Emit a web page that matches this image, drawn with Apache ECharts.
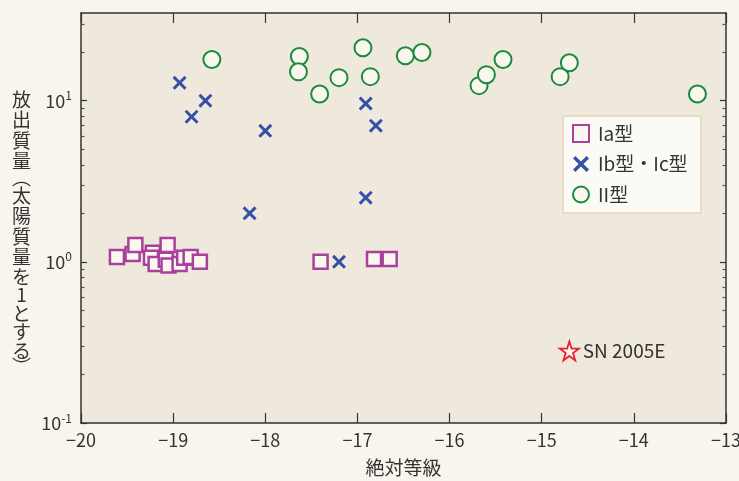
<!DOCTYPE html>
<html><head><meta charset="utf-8">
<script src="https://cdn.jsdelivr.net/npm/echarts@6/dist/echarts.min.js"></script>
<style>html,body{margin:0;padding:0;background:#f8f6ec;}#c{width:739px;height:481px;}</style>
</head><body><div id="c"></div>
<script>
// Data: [absolute magnitude, ejected mass (solar masses)]
const typeIa = [
  [-19.61,1.07],[-19.44,1.12],[-19.41,1.27],[-19.22,1.14],[-19.24,1.06],[-19.19,0.97],
  [-19.06,1.27],[-19.08,1.03],[-19.05,0.95],[-18.93,0.97],[-18.88,1.06],[-18.81,1.07],
  [-18.71,1.0],[-17.40,1.0],[-16.82,1.04],[-16.65,1.04]
];
const typeIbIc = [
  [-18.93,12.9],[-18.65,10.0],[-18.80,7.95],[-18.00,6.5],[-18.17,2.0],
  [-16.91,9.6],[-16.80,7.0],[-16.91,2.5],[-17.20,1.0]
];
const typeII = [
  [-18.58,18.0],[-17.63,18.8],[-17.64,15.1],[-17.41,11.0],[-17.20,13.9],[-16.94,21.3],
  [-16.86,14.1],[-16.48,19.0],[-16.30,19.9],[-15.68,12.4],[-15.60,14.5],[-15.42,18.0],
  [-14.80,14.1],[-14.70,17.2],[-13.31,11.0]
];
const sn2005e = [[-14.70,0.28]];
const seriesNames = ['Ia型','Ib型・Ic型','II型'];
const xTitle = '絶対等級';
const yTitle = '放出質量（太陽質量を1とする）';
const yMajor = [0.1,1,10];
const yMinor = [0.2,0.3,0.4,0.5,0.6,0.7,0.8,0.9,2,3,4,5,6,7,8,9,20,30];

const FONT = '"Noto Sans CJK JP","Noto Sans",sans-serif';
const TXT = '#333333';
const CREAM = '#faf8ee';
const xPath = 'path://M1.5,0 L5,3.5 L8.5,0 L10,1.5 L6.5,5 L10,8.5 L8.5,10 L5,6.5 L1.5,10 L0,8.5 L3.5,5 L0,1.5 Z';
const starPath = 'path://M50,3 L61,37 L97,37 L68,58 L79,93 L50,72 L21,93 L32,58 L3,37 L39,37 Z';

// vertical title: one glyph per line, parentheses in vertical form
const kanaSet = 'をとする1';
const vTitle = Array.from(yTitle).map(c => {
  if (c === '（') return '{p|︵}';
  if (c === '）') return '{p|︶}';
  if (kanaSet.indexOf(c) >= 0) return '{n|' + c + '}';
  return '{k|' + c + '}';
}).join('\n');

const chart = echarts.init(document.getElementById('c'), null, {renderer:'canvas'});
const axLine = {show:true, lineStyle:{color:'#333', width:1.5}};
const yBase = {type:'log', logBase:10, min:0.1, max:35, splitLine:{show:false}, axisLine:axLine};
const vStyle = {fontSize:19, fill:TXT, color:TXT, fontFamily:FONT, align:'center'};
chart.setOption({
  backgroundColor:'#f8f6ec',
  textStyle:{fontFamily:FONT},
  animation:false,
  grid:{left:81, right:13, top:13, bottom:58, show:true, backgroundColor:'#efe9dd', borderWidth:0,
        containLabel:false, outerBoundsMode:'none'},
  xAxis:[
    {type:'value', min:-20, max:-13, interval:1, position:'bottom',
     name:xTitle, nameLocation:'middle', nameGap:35,
     nameTextStyle:{fontSize:19, color:TXT, fontFamily:FONT},
     axisLine:axLine, splitLine:{show:false},
     axisTick:{inside:true, length:10, lineStyle:{color:'#333', width:1.2}},
     axisLabel:{fontSize:18, color:TXT, margin:8, fontFamily:FONT,
       formatter:v => (v<0?'−':'')+Math.abs(v)}},
    {type:'value', min:-20, max:-13, interval:1, position:'top',
     axisLine:axLine, splitLine:{show:false},
     axisTick:{inside:true, length:10, lineStyle:{color:'#333', width:1.2}},
     axisLabel:{show:false}}
  ],
  yAxis:[
    Object.assign({}, yBase, {position:'left',
      axisTick:{inside:true, length:6, customValues:yMajor, lineStyle:{color:'#333', width:1.2}},
      axisLabel:{customValues:yMajor, margin:9, color:TXT, fontFamily:FONT,
        formatter:v => '{b|10}{s|' + Math.round(Math.log10(v)) + '}',
        rich:{b:{fontSize:18, color:TXT, fontFamily:FONT, lineHeight:22},
              s:{fontSize:12, color:TXT, fontFamily:FONT, verticalAlign:'top', lineHeight:14}}}}),
    Object.assign({}, yBase, {position:'right',
      axisTick:{inside:true, length:6, customValues:yMajor, lineStyle:{color:'#333', width:1.2}},
      axisLabel:{show:false}}),
    Object.assign({}, yBase, {position:'left', axisLine:{show:false},
      axisTick:{inside:true, length:3.5, customValues:yMinor, lineStyle:{color:'#555', width:1.2}},
      axisLabel:{show:false}}),
    Object.assign({}, yBase, {position:'right', axisLine:{show:false},
      axisTick:{inside:true, length:3.5, customValues:yMinor, lineStyle:{color:'#555', width:1.2}},
      axisLabel:{show:false}})
  ],
  legend:{
    data:seriesNames, orient:'vertical', left:572, top:124, padding:0,
    itemWidth:16, itemHeight:17, itemGap:11.5, z:5,
    textStyle:{fontSize:19, color:TXT, fontFamily:FONT, padding:[0,0,0,4]}
  },
  graphic:[
    {type:'rect', z:4, shape:{x:563, y:116, width:138, height:97},
     style:{fill:'#fbfaf4', stroke:'#e6dcc8', lineWidth:2}},
    {type:'text', left:12, top:90, z:5,
     style:{text:vTitle, fill:TXT, fontFamily:FONT, fontSize:19, textAlign:'center',
       rich:{k:Object.assign({}, vStyle, {lineHeight:20.5}),
             n:Object.assign({}, vStyle, {lineHeight:18.5}),
             p:Object.assign({}, vStyle, {lineHeight:14})}}}
  ],
  series:[
    {name:seriesNames[0], type:'scatter', data:typeIa, symbol:'rect', symbolSize:14,
     itemStyle:{color:CREAM, borderColor:'#a8409c', borderWidth:2.5, opacity:1}},
    {name:seriesNames[1], type:'scatter', data:typeIbIc, symbol:xPath, symbolSize:14,
     itemStyle:{color:'#3650a8', opacity:1}},
    {name:seriesNames[2], type:'scatter', data:typeII, symbol:'circle', symbolSize:17,
     itemStyle:{color:CREAM, borderColor:'#178a3c', borderWidth:2, opacity:1}},
    {name:'SN 2005E', type:'scatter', data:sn2005e, symbol:starPath, symbolSize:19,
     itemStyle:{color:CREAM, borderColor:'#e8202a', borderWidth:1.8, opacity:1},
     label:{show:true, position:'right', distance:3, formatter:'SN 2005E',
       fontSize:19, color:TXT, fontFamily:FONT}}
  ]
});
</script></body></html>
